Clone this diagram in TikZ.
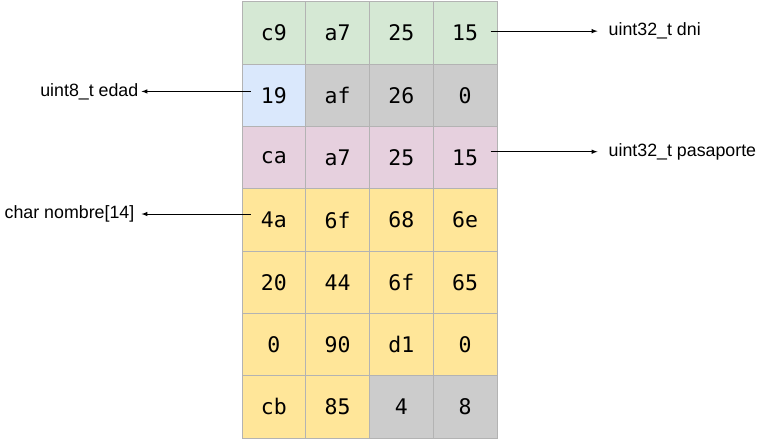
\documentclass[tikz,border=0pt]{standalone}
\usepackage{fontspec}
\setmainfont{Liberation Sans}
\newfontfamily\bytefont{DejaVu Sans Mono}
\usetikzlibrary{arrows,positioning}
\definecolor{memgreen}{HTML}{D5E8D4}
\definecolor{memblue}{HTML}{DAE8FC}
\definecolor{memgray}{HTML}{CCCCCC}
\definecolor{mempink}{HTML}{E6D0DE}
\definecolor{memyellow}{HTML}{FFE699}
\definecolor{memborder}{HTML}{B3B3B3}

\begin{document}
\begin{tikzpicture}[>=latex,x=1pt,y=-1pt]
\tikzset{
	byte/.style={draw=memborder,line width=1pt,minimum width=63.75pt,
		minimum height=62.3pt,inner sep=0pt,
		font=\bytefont\fontsize{21.5}{22}\selectfont},
	field/.style={font=\fontsize{17.8}{20}\selectfont,inner sep=3pt},
	pointer/.style={->,line width=1pt}
}
\useasboundingbox (0,0) rectangle (771,441);
\foreach \r/\vals in {1/{c9/memgreen,a7/memgreen,25/memgreen,15/memgreen},
		2/{19/memblue,af/memgray,26/memgray,0/memgray},
		3/{ca/mempink,a7/mempink,25/mempink,15/mempink},
		4/{4a/memyellow,6f/memyellow,68/memyellow,6e/memyellow},
		5/{20/memyellow,44/memyellow,6f/memyellow,65/memyellow},
		6/{0/memyellow,90/memyellow,d1/memyellow,0/memyellow},
		7/{cb/memyellow,85/memyellow,4/memgray,8/memgray}}{
	\foreach \v/\col [count=\c] in \vals
		\node[byte,fill=\col] (c\r\c) at ({242+63.75*(\c-0.5)},{2+62.29*(\r-0.5)}) {\v};
}
\node[field,right=100pt of c14,yshift=2pt,inner xsep=11pt] (ldni) {uint32\_t dni};
\node[field,left=100pt of c21,yshift=4pt] (ledad) {uint8\_t edad};
\node[field,right=100pt of c34,yshift=6pt,inner xsep=11pt] (lpasaporte) {uint32\_t pasaporte};
\node[field,left=100pt of c41,yshift=6pt,inner xsep=7pt] (lnombre) {char nombre[14]};
\draw[pointer] ([xshift=-7pt]ldni.west -| c14.east) -- (ldni.west);
\draw[pointer] ([xshift=9pt]ledad.east -| c21.west) -- (ledad.east);
\draw[pointer] ([xshift=-7pt]lpasaporte.west -| c34.east) -- (lpasaporte.west);
\draw[pointer] ([xshift=9pt]lnombre.east -| c41.west) -- (lnombre.east);
\end{tikzpicture}
\end{document}
